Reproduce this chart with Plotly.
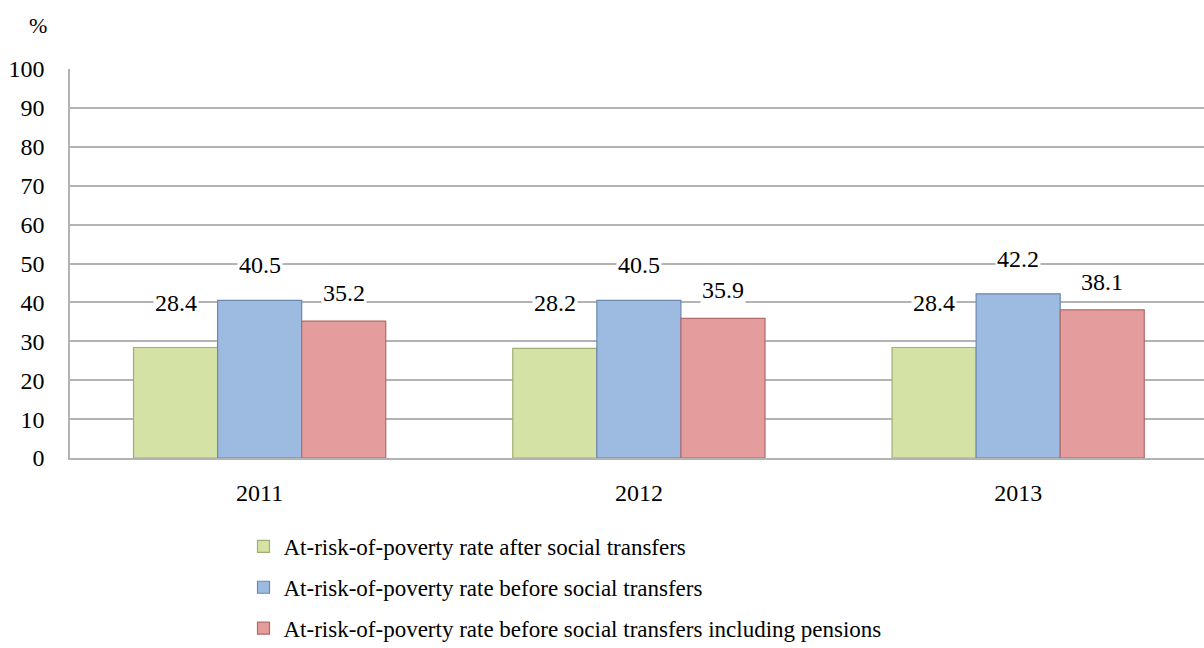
import plotly.graph_objects as go

years = ["2011", "2012", "2013"]
series_names = [
    "At-risk-of-poverty rate after social transfers",
    "At-risk-of-poverty rate before social transfers",
    "At-risk-of-poverty rate before social transfers including pensions",
]
after_transfers = [28.4, 28.2, 28.4]
before_transfers = [40.5, 40.5, 42.2]
before_incl_pensions = [35.2, 35.9, 38.1]

values = [after_transfers, before_transfers, before_incl_pensions]
fills = ["#D4E3A5", "#9DBBE1", "#E59C9C"]
edges = ["#9FAF72", "#6A88B0", "#B06B6B"]
label_lift = [45, 35, 28]

FONT = "Liberation Serif"

fig = go.Figure()
for i, (name, vals) in enumerate(zip(series_names, values)):
    fig.add_trace(go.Bar(
        name=name,
        x=years,
        y=vals,
        marker=dict(color=fills[i], line=dict(color=edges[i], width=1.2)),
        legendgroup=f"g{i}",
        offsetgroup=str(i),
    ))

# value labels above each bar, boxed in white so they sit over the gridlines
group_w = 1 - 0.335
bar_w = group_w / 3
for i, vals in enumerate(values):
    off = -group_w / 2 + bar_w * (i + 0.5)
    for j, v in enumerate(vals):
        fig.add_annotation(
            x=j + off, y=v, xref="x", yref="y",
            text=f"{v:.1f}", showarrow=False,
            yshift=label_lift[i], bgcolor="white",
            font=dict(family=FONT, size=24, color="#000000"),
        )

# unit label above the value axis
fig.add_annotation(
    x=-0.028, y=1.113, xref="paper", yref="paper",
    xanchor="center", yanchor="middle",
    text="%", showarrow=False,
    font=dict(family=FONT, size=22, color="#000000"),
)

fig.update_layout(
    width=1204, height=648,
    margin=dict(l=70, r=0, t=69, b=190, autoexpand=False),
    paper_bgcolor="white", plot_bgcolor="white",
    barmode="group", bargap=0.335, bargroupgap=0,
    font=dict(family=FONT, size=23, color="#000000"),
    showlegend=True,
    legend=dict(
        x=0.153, y=0.19, xref="paper", yref="container",
        xanchor="left", yanchor="top",
        orientation="v", tracegroupgap=8,
        font=dict(family=FONT, size=23, color="#000000"),
        itemwidth=30,
    ),
    xaxis=dict(
        type="category", range=[-0.5, 2.49],
        showline=True, linecolor="#B3B3B3", linewidth=1.5,
        ticks="", showgrid=False,
        tickfont=dict(family=FONT, size=24, color="#000000"),
        ticklabelstandoff=12,
    ),
    yaxis=dict(
        range=[0, 100], dtick=10,
        showline=True, linecolor="#B3B3B3", linewidth=1.5,
        gridcolor="#B3B3B3", gridwidth=1.5,
        ticks="", zeroline=False,
        tickfont=dict(family=FONT, size=24, color="#000000"),
        ticklabelstandoff=19,
    ),
)

fig.write_html("out.html")
